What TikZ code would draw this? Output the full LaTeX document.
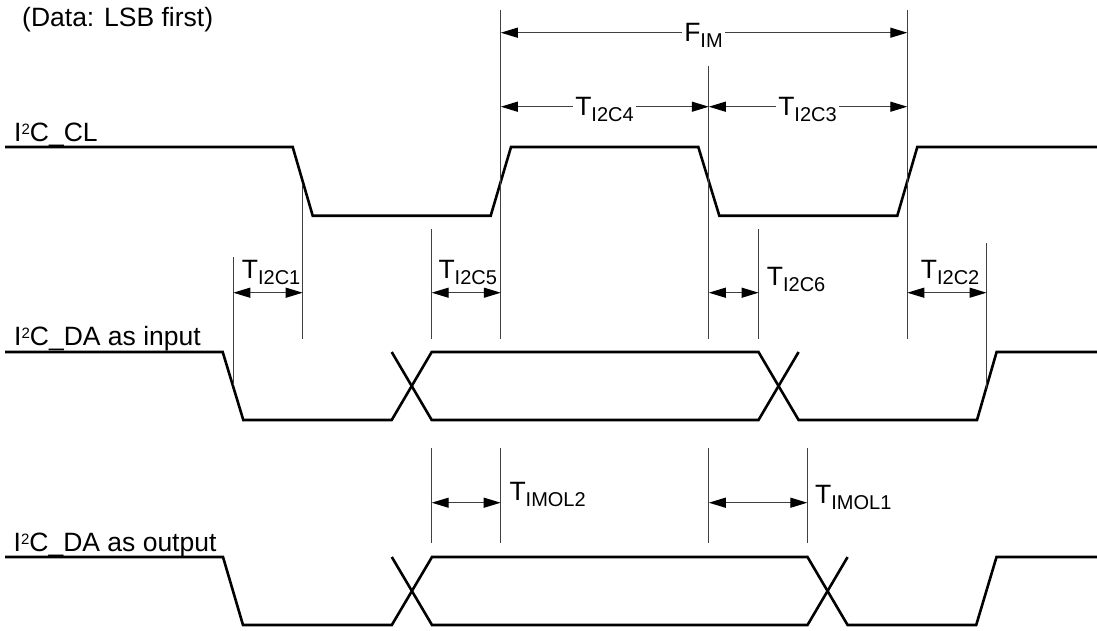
\documentclass[tikz,border=0pt]{standalone}
\usepackage{fontspec}
\setmainfont{Liberation Sans}
\usetikzlibrary{arrows.meta}
\newcommand{\Tl}[2]{#1\raisebox{-6pt}{\fontsize{20}{20}\selectfont #2}}
\newcommand{\Isq}{I\raisebox{7pt}{\fontsize{15}{15}\selectfont 2}C}
\begin{document}
\begin{tikzpicture}[x=1pt,y=-1pt,
  sig/.style={line width=2.6pt, line join=miter},
  guide/.style={line width=1.2pt, draw=black!75},
  dim/.style={line width=1.2pt, draw=black!75, {Triangle[length=17pt,width=10pt,fill=black,color=black]}-{Triangle[length=17pt,width=10pt,fill=black,color=black]}},
  lab/.style={font=\fontsize{26.5}{30}\selectfont, inner sep=0pt, anchor=base west},
  onl/.style={font=\fontsize{26.5}{30}\selectfont, inner sep=0pt, inner xsep=2.5pt, fill=white, anchor=base}]
\fill[white] (0,0) rectangle (1097,630);
\useasboundingbox (0,0) rectangle (1097,630);

% ---- waveforms ----
\draw[sig] (5,147) -- (292.7,147) -- (312.7,215.7) -- (490.7,215.7) -- (511,147) -- (698.3,147) -- (719.3,215.7) -- (897.3,215.7) -- (917.3,147) -- (1097,147);

\draw[sig] (5,352) -- (222.7,352) -- (243.3,420) -- (391.7,420) -- (431.7,352) -- (758.5,352) -- (798.6,420) -- (977,420) -- (996.6,352) -- (1097,352);
\draw[sig] (391.7,352) -- (431.7,420) -- (758.5,420) -- (798.6,352);

\draw[sig] (5,557) -- (223,557) -- (243,625) -- (391.8,625) -- (432,557) -- (807.5,557) -- (847.6,625) -- (976.2,625) -- (996.5,557) -- (1097,557);
\draw[sig] (391.8,557) -- (432,625) -- (807.5,625) -- (847.6,557);

% ---- guide lines ----
\coordinate (v1t) at (233.3,257);  \coordinate (v1b) at (233.3,385);
\coordinate (v2t) at (302.7,185);  \coordinate (v2b) at (302.7,339);
\coordinate (v3t) at (431.7,229);  \coordinate (v3b) at (431.7,339);
\coordinate (v4t) at (500.8,10);   \coordinate (v4b) at (500.8,339);
\coordinate (v5t) at (708.8,65.7); \coordinate (v5b) at (708.8,339);
\coordinate (v6t) at (758.6,229);  \coordinate (v6b) at (758.6,339);
\coordinate (v7t) at (907.3,10);   \coordinate (v7b) at (907.3,339);
\coordinate (v8t) at (986.5,243);  \coordinate (v8b) at (986.5,388);
\coordinate (w1t) at (431.7,448.3); \coordinate (w1b) at (431.7,543.3);
\coordinate (w2t) at (500.7,448.3); \coordinate (w2b) at (500.7,543.3);
\coordinate (w3t) at (708.8,448.3); \coordinate (w3b) at (708.8,543.3);
\coordinate (w4t) at (807.3,448.3); \coordinate (w4b) at (807.3,543.3);
\foreach \v in {v1,v2,v3,v4,v5,v6,v7,v8,w1,w2,w3,w4}
  \draw[guide] (\v t) -- (\v b);

% ---- dimension arrows ----
\coordinate (fa) at (500.8,32.7);  \coordinate (fb) at (907.3,32.7);
\coordinate (c4a) at (500.8,106.7); \coordinate (c4b) at (708.8,106.7);
\coordinate (c3a) at (708.8,106.7); \coordinate (c3b) at (907.3,106.7);
\coordinate (c1a) at (233.3,292.7); \coordinate (c1b) at (302.7,292.7);
\coordinate (c5a) at (431.7,292.7); \coordinate (c5b) at (500.8,292.7);
\coordinate (c6a) at (708.8,292.7); \coordinate (c6b) at (758.6,292.7);
\coordinate (c2a) at (907.3,292.7); \coordinate (c2b) at (986.5,292.7);
\coordinate (m2a) at (431.7,502.7); \coordinate (m2b) at (500.7,502.7);
\coordinate (m1a) at (708.8,502.7); \coordinate (m1b) at (807.3,502.7);
\foreach \a in {f,c4,c3,c1,c5,c6,c2,m2,m1}
  \draw[dim] (\a a) -- (\a b);

% ---- labels ----
\node[lab] (title) at (22,26) {(Data: LSB first)};
\node[lab] (ncl) at (14,141.7) {\Isq\_CL};
\node[lab] (nin) at (14,345.7) {\Isq\_DA as input};
\node[lab] (nout) at (13.5,551.5) {\Isq\_DA as output};

\node[onl] (tfim) at (703.5,41.7) {\Tl{F}{IM}};
\node[onl] (t4) at (604.5,115) {\Tl{T}{I2C4}};
\node[onl] (t3) at (807.5,115) {\Tl{T}{I2C3}};
\node[lab] (t1) at (241.7,278) {\Tl{T}{I2C1}};
\node[lab] (t5) at (438.3,278) {\Tl{T}{I2C5}};
\node[lab] (t6) at (766.7,285) {\Tl{T}{I2C6}};
\node[lab] (t2) at (920.7,278.3) {\Tl{T}{I2C2}};
\node[lab] (tm2) at (509.3,500.5) {\Tl{T}{IMOL2}};
\node[lab] (tm1) at (815,503) {\Tl{T}{IMOL1}};
\end{tikzpicture}
\end{document}
